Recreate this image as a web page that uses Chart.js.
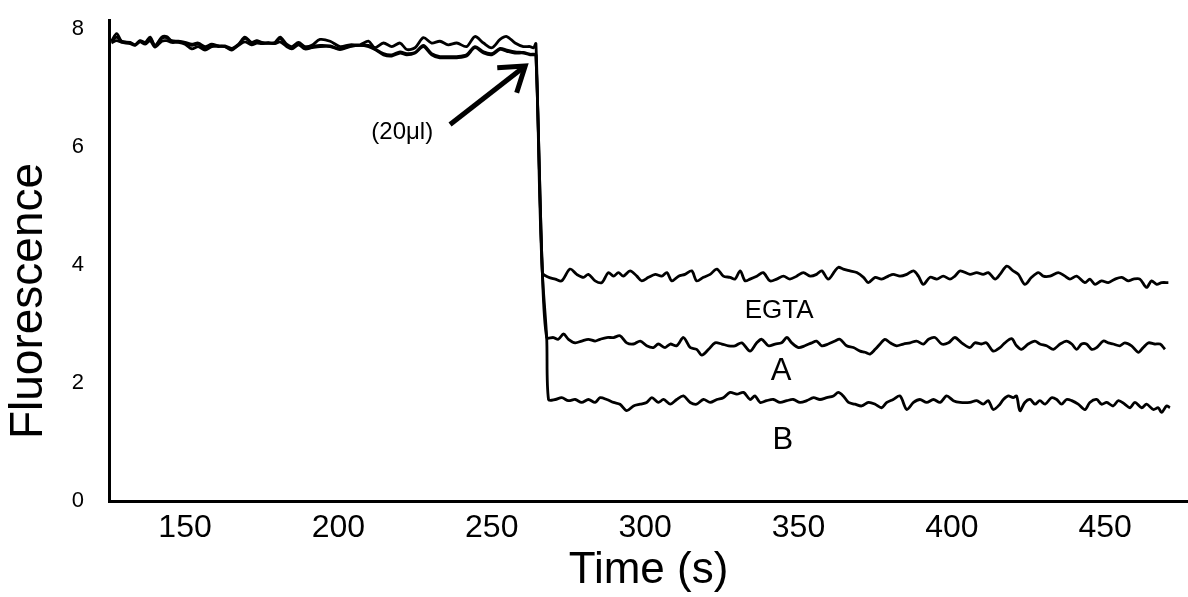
<!DOCTYPE html>
<html>
<head>
<meta charset="utf-8">
<title>Fluorescence</title>
<script src="https://cdn.jsdelivr.net/npm/chart.js@4.4.1/dist/chart.umd.min.js"></script>
<style>
    html, body { margin: 0; padding: 0; background: #fff; }
    #wrap { width: 1188px; height: 597px; }
</style>
</head>
<body>
<div id="wrap"><canvas id="traceChart" width="1188" height="597"></canvas></div>
<script>
// Time (s) and fluorescence before the 20 ul addition (three traces overlap)
const preTime = [
    126.0, 127.7, 129.3, 132.1, 133.7, 135.3, 137.0, 138.6, 140.2, 142.4,
    144.0, 145.6, 147.8, 150.0, 152.2, 154.3, 156.5, 158.7, 160.9, 163.0,
    165.2, 167.4, 169.5, 171.7, 173.4, 175.0, 177.2, 179.3, 181.0, 183.1,
    184.8, 187.0, 189.1, 191.3, 194.0, 197.3, 200.5, 203.8, 207.0, 209.8,
    211.9, 214.7, 217.4, 220.1, 222.3, 225.0, 227.7, 230.4, 233.1, 235.8,
    238.6, 241.8, 244.5, 247.3, 250.0, 252.7, 254.9, 257.6, 260.3, 262.5,
    263.6, 264.4
];
const preEgta = [
    7.79, 7.92, 7.79, 7.77, 7.73, 7.80, 7.77, 7.86, 7.72, 7.86,
    7.87, 7.80, 7.79, 7.77, 7.74, 7.76, 7.70, 7.74, 7.71, 7.71,
    7.67, 7.74, 7.86, 7.77, 7.80, 7.77, 7.76, 7.77, 7.86, 7.74,
    7.70, 7.77, 7.70, 7.72, 7.82, 7.79, 7.70, 7.73, 7.73, 7.79,
    7.68, 7.76, 7.70, 7.76, 7.65, 7.68, 7.85, 7.76, 7.79, 7.73,
    7.76, 7.70, 7.87, 7.76, 7.68, 7.82, 7.87, 7.76, 7.70, 7.70,
    7.68, 7.75
];
const preA = [
    7.78, 7.86, 7.79, 7.76, 7.73, 7.79, 7.76, 7.84, 7.71, 7.84,
    7.85, 7.79, 7.78, 7.76, 7.72, 7.74, 7.68, 7.72, 7.71, 7.70,
    7.66, 7.73, 7.84, 7.76, 7.79, 7.76, 7.76, 7.76, 7.84, 7.72,
    7.68, 7.76, 7.68, 7.70, 7.72, 7.71, 7.66, 7.71, 7.72, 7.72,
    7.66, 7.58, 7.56, 7.61, 7.58, 7.60, 7.72, 7.58, 7.53, 7.53,
    7.53, 7.56, 7.70, 7.61, 7.58, 7.67, 7.64, 7.61, 7.60, 7.57,
    7.57, 7.56
];
const preB = [
    7.76, 7.80, 7.77, 7.75, 7.72, 7.78, 7.74, 7.80, 7.69, 7.79,
    7.80, 7.77, 7.77, 7.74, 7.66, 7.70, 7.64, 7.70, 7.70, 7.70,
    7.64, 7.72, 7.78, 7.73, 7.76, 7.75, 7.76, 7.75, 7.78, 7.70,
    7.66, 7.73, 7.66, 7.68, 7.70, 7.70, 7.65, 7.70, 7.72, 7.70,
    7.65, 7.56, 7.54, 7.59, 7.56, 7.59, 7.70, 7.56, 7.51, 7.51,
    7.51, 7.54, 7.68, 7.59, 7.56, 7.65, 7.62, 7.59, 7.59, 7.56,
    7.56, 7.55
];

// After the addition: EGTA trace
const egtaTime = [
    266.5, 268.5, 270.7, 272.8, 275.5, 277.7, 279.9, 281.5, 283.7, 285.9,
    288.0, 289.7, 291.3, 292.9, 295.1, 297.3, 298.9, 301.1, 303.3, 305.4,
    307.1, 308.7, 310.9, 313.0, 315.2, 316.8, 319.0, 321.2, 323.4, 325.5,
    327.7, 329.3, 331.0, 332.6, 334.2, 336.4, 338.5, 340.7, 342.9, 345.1,
    347.2, 349.4, 351.6, 353.8, 355.9, 357.6, 359.7, 361.9, 363.0, 364.6,
    366.8, 369.0, 371.2, 372.8, 375.0, 377.1, 379.3, 380.9, 383.1, 385.3,
    387.5, 389.1, 390.7, 392.9, 395.1, 397.2, 399.4, 401.0, 402.7, 405.9,
    408.1, 410.2, 411.9, 414.1, 415.7, 417.9, 420.0, 421.7, 423.8, 426.0,
    428.2, 429.8, 432.0, 434.7, 436.9, 438.5, 440.7, 443.4, 445.0, 446.7,
    448.8, 451.0, 453.2, 455.4, 457.5, 459.2, 461.3, 463.5, 465.1, 466.8,
    468.4, 470.6
];
const egtaVals = [
    3.87, 3.79, 3.76, 3.73, 3.93, 3.84, 3.79, 3.84, 3.73, 3.70,
    3.87, 3.81, 3.87, 3.81, 3.90, 3.81, 3.73, 3.79, 3.84, 3.81,
    3.87, 3.73, 3.81, 3.84, 3.90, 3.73, 3.79, 3.84, 3.93, 3.81,
    3.79, 3.76, 3.90, 3.73, 3.76, 3.81, 3.87, 3.73, 3.76, 3.81,
    3.76, 3.81, 3.87, 3.81, 3.84, 3.90, 3.76, 3.90, 3.96, 3.93,
    3.90, 3.87, 3.79, 3.70, 3.79, 3.76, 3.81, 3.84, 3.81, 3.84,
    3.90, 3.81, 3.67, 3.79, 3.76, 3.81, 3.76, 3.81, 3.90, 3.84,
    3.87, 3.84, 3.87, 3.76, 3.84, 3.98, 3.90, 3.84, 3.67, 3.79,
    3.87, 3.81, 3.81, 3.87, 3.81, 3.76, 3.81, 3.70, 3.76, 3.67,
    3.73, 3.70, 3.76, 3.79, 3.73, 3.76, 3.76, 3.62, 3.73, 3.67,
    3.70, 3.70
];

// After the addition: trace A
const aTime = [
    266.5, 267.9, 270.1, 271.7, 273.4, 275.0, 277.2, 279.3, 281.5, 283.7,
    285.3, 287.5, 289.7, 291.8, 294.0, 296.2, 298.4, 300.5, 302.7, 304.3,
    306.5, 308.2, 310.3, 312.5, 314.7, 316.8, 318.5, 320.7, 322.8, 325.0,
    327.2, 329.3, 331.5, 334.2, 336.4, 338.0, 340.2, 342.4, 344.5, 346.2,
    347.8, 350.0, 352.1, 354.3, 355.9, 357.6, 359.7, 361.9, 363.5, 365.7,
    367.9, 370.1, 371.7, 373.3, 375.0, 376.6, 378.2, 379.9, 382.0, 384.2,
    386.4, 388.5, 390.7, 392.4, 394.5, 396.7, 398.9, 401.0, 403.2, 405.9,
    407.5, 409.7, 411.3, 413.5, 415.7, 417.3, 419.5, 421.1, 422.7, 424.9,
    427.1, 428.7, 430.9, 433.1, 435.3, 437.4, 439.1, 440.7, 442.3, 443.9,
    445.6, 447.2, 449.4, 451.0, 452.6, 454.8, 456.4, 458.6, 460.8, 462.4,
    464.1, 466.2, 467.9, 469.5
];
const aVals = [
    3.87, 2.77, 2.77, 2.74, 2.83, 2.74, 2.68, 2.71, 2.74, 2.71,
    2.74, 2.77, 2.77, 2.80, 2.68, 2.66, 2.71, 2.63, 2.60, 2.66,
    2.60, 2.66, 2.63, 2.77, 2.60, 2.57, 2.47, 2.57, 2.68, 2.66,
    2.63, 2.63, 2.68, 2.54, 2.68, 2.74, 2.63, 2.66, 2.68, 2.77,
    2.68, 2.60, 2.63, 2.68, 2.71, 2.63, 2.66, 2.71, 2.74, 2.63,
    2.60, 2.54, 2.52, 2.49, 2.57, 2.66, 2.74, 2.68, 2.63, 2.66,
    2.68, 2.71, 2.66, 2.74, 2.77, 2.66, 2.68, 2.77, 2.68, 2.60,
    2.68, 2.66, 2.68, 2.54, 2.60, 2.68, 2.75, 2.63, 2.57, 2.66,
    2.71, 2.66, 2.63, 2.57, 2.66, 2.71, 2.66, 2.57, 2.66, 2.66,
    2.57, 2.60, 2.71, 2.68, 2.66, 2.63, 2.68, 2.63, 2.52, 2.60,
    2.68, 2.66, 2.66, 2.57
];

// After the addition: trace B
const bTime = [
    266.5, 267.9, 268.5, 270.7, 272.8, 275.0, 277.2, 279.3, 281.5, 283.7,
    285.3, 287.5, 289.7, 291.8, 294.0, 296.2, 298.4, 300.5, 302.2, 304.3,
    306.0, 308.2, 310.3, 312.5, 314.7, 316.8, 319.0, 321.2, 323.4, 325.5,
    327.7, 329.9, 332.1, 334.2, 335.8, 337.5, 339.6, 341.8, 344.0, 346.2,
    348.3, 350.5, 352.7, 354.9, 357.0, 359.2, 361.4, 363.0, 364.6, 366.3,
    368.4, 370.6, 372.8, 375.0, 377.1, 378.8, 380.9, 383.1, 385.3, 387.5,
    389.6, 391.8, 394.0, 396.2, 398.3, 400.5, 402.7, 405.9, 408.1, 410.2,
    411.9, 413.5, 415.7, 416.8, 418.4, 420.0, 421.1, 422.2, 423.8, 425.5,
    427.1, 428.7, 430.4, 432.5, 434.2, 435.8, 437.4, 439.1, 441.2, 443.4,
    445.0, 447.2, 448.8, 450.5, 452.6, 454.3, 456.4, 458.1, 459.7, 461.9,
    463.5, 465.7, 467.3, 468.4, 470.0, 471.1
];
const bVals = [
    3.87, 2.77, 1.72, 1.72, 1.75, 1.70, 1.72, 1.67, 1.72, 1.67,
    1.75, 1.72, 1.67, 1.64, 1.53, 1.61, 1.64, 1.67, 1.75, 1.67,
    1.72, 1.64, 1.72, 1.78, 1.67, 1.64, 1.72, 1.67, 1.72, 1.75,
    1.84, 1.81, 1.84, 1.72, 1.78, 1.67, 1.70, 1.72, 1.67, 1.70,
    1.72, 1.67, 1.70, 1.75, 1.72, 1.75, 1.78, 1.84, 1.78, 1.67,
    1.64, 1.61, 1.67, 1.64, 1.58, 1.67, 1.72, 1.78, 1.55, 1.67,
    1.72, 1.67, 1.72, 1.67, 1.78, 1.70, 1.67, 1.67, 1.70, 1.64,
    1.70, 1.55, 1.64, 1.72, 1.78, 1.75, 1.78, 1.53, 1.67, 1.72,
    1.64, 1.70, 1.64, 1.75, 1.72, 1.64, 1.72, 1.70, 1.64, 1.55,
    1.67, 1.72, 1.64, 1.67, 1.61, 1.70, 1.64, 1.58, 1.67, 1.58,
    1.64, 1.55, 1.58, 1.50, 1.61, 1.58
];

// axis ticks
const xTicks = [150, 200, 250, 300, 350, 400, 450];
const yTicks = [0, 2, 4, 6, 8];

// trace labels, placed in data units
const noteText = ["EGTA", "A", "B", "(20\u03bcl)"];
const noteX = [343.7, 344.3, 344.9, 220.8];
const noteY = [3.22, 2.19, 1.02, 6.24];

// injection arrow, tail -> tip in data units
const arrowFrom = [236.4, 6.38];
const arrowTo = [260.9, 7.37];

const FONT = "'Liberation Sans', Arial, Helvetica, sans-serif";

function toPoints(times, vals) {
    return times.map((t, i) => ({ x: t, y: vals[i] }));
}

function traceSet(label, pre, times, vals) {
    return {
        label: label,
        data: toPoints(preTime, pre).concat(toPoints(times, vals)),
        borderColor: "#000",
        borderWidth: 2.8,
        pointRadius: 0,
        tension: 0.3,
        fill: false
    };
}

// text labels, arrow and rotated y title
const notesPlugin = {
    id: "notes",
    afterDraw(chart) {
        const ctx = chart.ctx;
        const xs = chart.scales.x;
        const ys = chart.scales.y;
        const sizes = [26, 31, 31, 24];

        ctx.save();
        ctx.fillStyle = "#000";
        ctx.textAlign = "center";
        ctx.textBaseline = "middle";
        noteText.forEach((txt, i) => {
            ctx.font = sizes[i] + "px " + FONT;
            ctx.fillText(txt, xs.getPixelForValue(noteX[i]), ys.getPixelForValue(noteY[i]));
        });

        // arrow
        const x0 = xs.getPixelForValue(arrowFrom[0]);
        const y0 = ys.getPixelForValue(arrowFrom[1]);
        const x1 = xs.getPixelForValue(arrowTo[0]);
        const y1 = ys.getPixelForValue(arrowTo[1]);
        const ang = Math.atan2(y1 - y0, x1 - x0);
        const barb = 28;
        ctx.strokeStyle = "#000";
        ctx.lineWidth = 5;
        ctx.lineCap = "butt";
        ctx.lineJoin = "miter";
        ctx.beginPath();
        ctx.moveTo(x0, y0);
        ctx.lineTo(x1, y1);
        ctx.stroke();
        ctx.beginPath();
        ctx.moveTo(x1 - barb * Math.cos(ang - 0.6), y1 - barb * Math.sin(ang - 0.6));
        ctx.lineTo(x1, y1);
        ctx.lineTo(x1 - barb * Math.cos(ang + 0.6), y1 - barb * Math.sin(ang + 0.6));
        ctx.stroke();

        // y axis title
        ctx.font = "46px " + FONT;
        ctx.translate(29, 301);
        ctx.rotate(-Math.PI / 2);
        ctx.fillText("Fluorescence", 0, 0);
        ctx.restore();
    }
};

document.addEventListener("DOMContentLoaded", function () {
    const ctx = document.getElementById("traceChart").getContext("2d");

    new Chart(ctx, {
        type: "line",
        data: {
            datasets: [
                traceSet("EGTA", preEgta, egtaTime, egtaVals),
                traceSet("A", preA, aTime, aVals),
                traceSet("B", preB, bTime, bVals)
            ]
        },
        options: {
            responsive: false,
            animation: false,
            devicePixelRatio: 1,
            layout: { padding: { left: 0, right: 0, top: 20, bottom: 0 } },
            plugins: {
                legend: { display: false },
                tooltip: { enabled: false }
            },
            scales: {
                x: {
                    type: "linear",
                    min: 125.2,
                    max: 477,
                    afterBuildTicks: (scale) => { scale.ticks = xTicks.map(v => ({ value: v })); },
                    afterFit: (scale) => { scale.height = 96; },
                    grid: { display: false, drawTicks: true, tickLength: 8 },
                    border: { display: true, color: "#000", width: 3 },
                    ticks: {
                        color: "#000",
                        padding: 0,
                        maxRotation: 0,
                        font: { family: FONT, size: 32 }
                    },
                    title: {
                        display: true,
                        text: "Time (s)",
                        color: "#000",
                        padding: { top: 0, bottom: 0 },
                        font: { family: FONT, size: 44 }
                    }
                },
                y: {
                    type: "linear",
                    min: 0,
                    max: 8.15,
                    afterBuildTicks: (scale) => { scale.ticks = yTicks.map(v => ({ value: v })); },
                    afterFit: (scale) => { scale.width = 109; },
                    // tick marks stay hidden; tickLength only sets the label gap
                    grid: { display: false, drawTicks: true, tickLength: 25 },
                    border: { display: true, color: "#000", width: 3 },
                    ticks: {
                        color: "#000",
                        padding: 0,
                        font: { family: FONT, size: 22 }
                    }
                }
            }
        },
        plugins: [notesPlugin]
    });
});
</script>
</body>
</html>
